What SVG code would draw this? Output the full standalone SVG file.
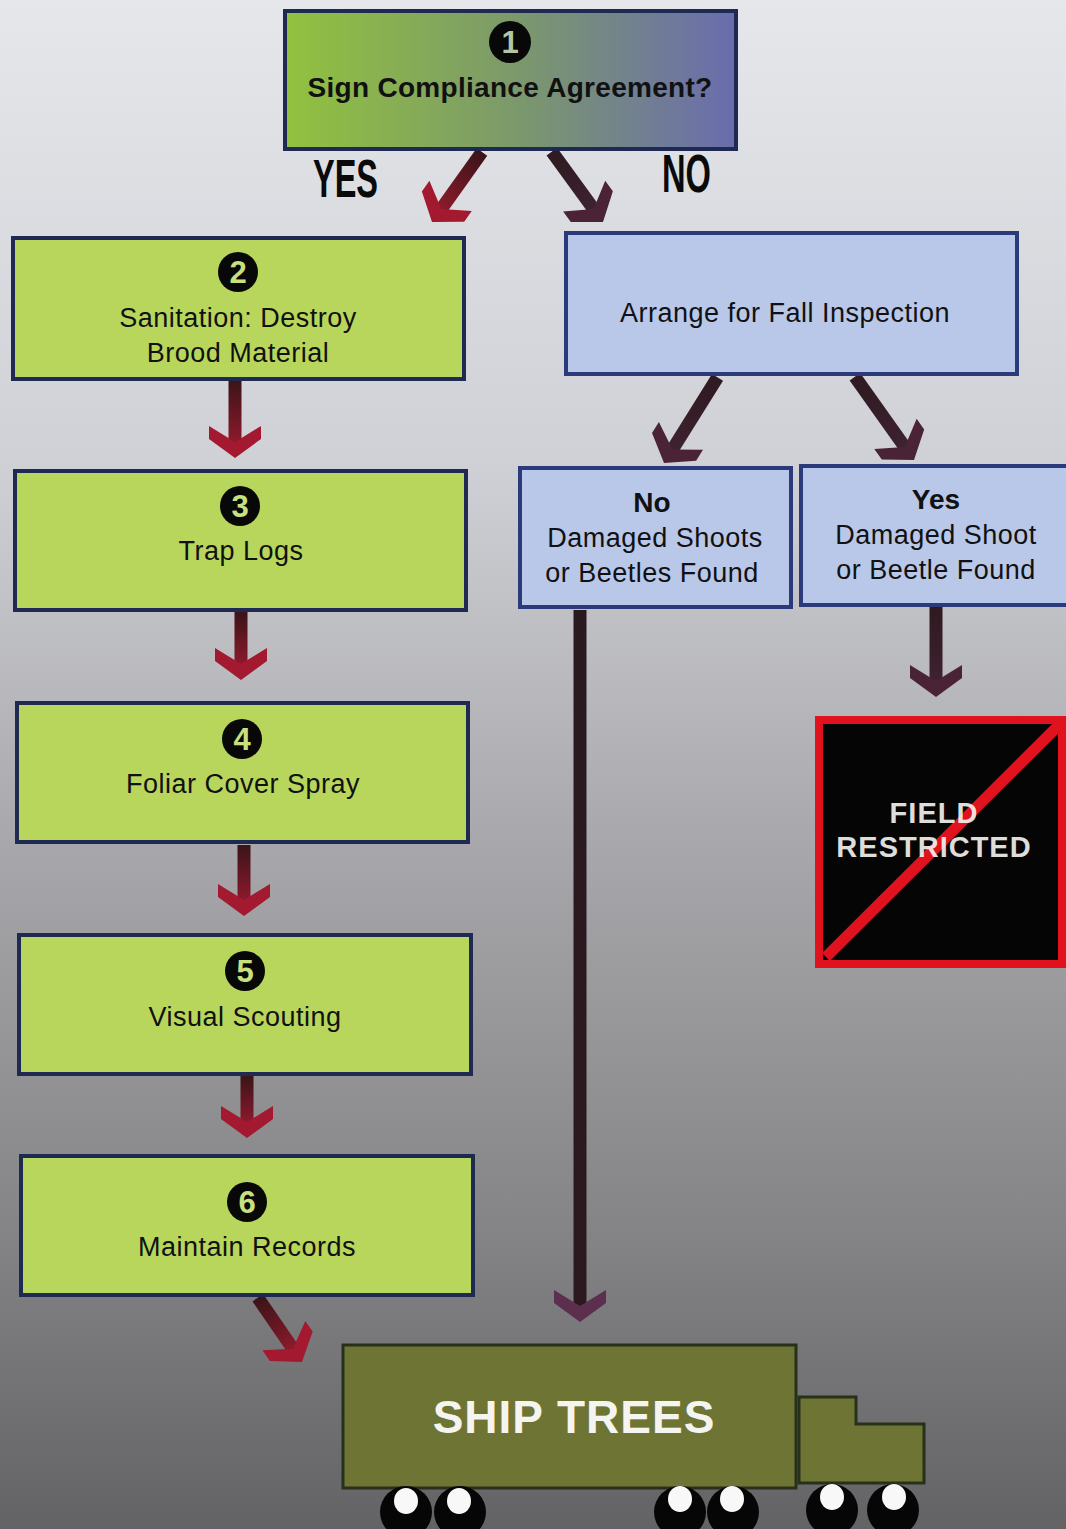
<svg xmlns="http://www.w3.org/2000/svg" xmlns:xlink="http://www.w3.org/1999/xlink" width="1066" height="1529" viewBox="0 0 1066 1529">
<defs>
<linearGradient id="bg" x1="0" y1="0" x2="0" y2="1">
<stop offset="0" stop-color="#e6e7eb"/>
<stop offset="0.3" stop-color="#d0d1d6"/>
<stop offset="0.55" stop-color="#a8a8ac"/>
<stop offset="0.8" stop-color="#858587"/>
<stop offset="1" stop-color="#636365"/>
</linearGradient>
<linearGradient id="g1" x1="0" y1="0" x2="1" y2="0">
<stop offset="0" stop-color="#92c23e"/>
<stop offset="0.5" stop-color="#7c9a6a"/>
<stop offset="1" stop-color="#6a6cae"/>
</linearGradient>
<linearGradient id="shRed" x1="0" y1="0" x2="0" y2="1">
<stop offset="0" stop-color="#3a1418"/>
<stop offset="1" stop-color="#8e1a2c"/>
</linearGradient>
<linearGradient id="shPur" x1="0" y1="0" x2="0" y2="1">
<stop offset="0" stop-color="#2e1a20"/>
<stop offset="1" stop-color="#3e2230"/>
</linearGradient>
<polygon id="chev" points="0,0 -26,-19 -26,-32 0,-16 26,-32 26,-19"/>
<style>
.green{fill:#b8d65c;stroke:#1f2a52;stroke-width:4}
.blue{fill:#b9c7e9;stroke:#2a3a7a;stroke-width:4}
.t{font-family:"Liberation Sans",Arial,sans-serif;font-size:27px;fill:#111;text-anchor:middle;letter-spacing:0.5px}
.tb{font-family:"Liberation Sans",Arial,sans-serif;font-size:28px;font-weight:bold;fill:#111;text-anchor:middle}
.num{font-family:"Liberation Sans",Arial,sans-serif;font-size:31px;font-weight:bold;fill:#c9e07e;text-anchor:middle}
.yn{font-family:"Liberation Sans",Arial,sans-serif;font-size:54px;font-weight:900;fill:#0a0a0a}
.wt{font-family:"Liberation Sans",Arial,sans-serif;font-weight:bold;fill:#f4f4f0;text-anchor:middle}
.hr{fill:#a3192f}
.hp{fill:#4a2436}
.hp2{fill:#5c2f4e}
</style>
</defs>
<rect x="0" y="0" width="1066" height="1529" fill="url(#bg)"/>

<g id="connectors">
<g transform="translate(432,222) rotate(35.5)"><rect x="-6.5" y="-86" width="13" height="72" fill="url(#shRed)"/><use xlink:href="#chev" class="hr"/></g>
<g transform="translate(603,222) rotate(-36)"><rect x="-6.5" y="-87" width="13" height="73" fill="url(#shPur)"/><use xlink:href="#chev" class="hp"/></g>
<g transform="translate(235,458)"><rect x="-6.5" y="-78" width="13" height="64" fill="url(#shRed)"/><use xlink:href="#chev" class="hr"/></g>
<g transform="translate(241,680)"><rect x="-6.5" y="-68" width="13" height="54" fill="url(#shRed)"/><use xlink:href="#chev" class="hr"/></g>
<g transform="translate(244,916)"><rect x="-6.5" y="-71" width="13" height="57" fill="url(#shRed)"/><use xlink:href="#chev" class="hr"/></g>
<g transform="translate(247,1138)"><rect x="-6.5" y="-62" width="13" height="48" fill="url(#shRed)"/><use xlink:href="#chev" class="hr"/></g>
<g transform="translate(302,1362) rotate(-34.5)"><rect x="-6.5" y="-78" width="13" height="64" fill="url(#shRed)"/><use xlink:href="#chev" class="hr"/></g>
<g transform="translate(664,463) rotate(32)"><rect x="-6.5" y="-101" width="13" height="87" fill="url(#shPur)"/><use xlink:href="#chev" class="hp"/></g>
<g transform="translate(914,460) rotate(-35.4)"><rect x="-6.5" y="-102" width="13" height="88" fill="url(#shPur)"/><use xlink:href="#chev" class="hp"/></g>
<g transform="translate(936,697)"><rect x="-6.5" y="-91" width="13" height="77" fill="url(#shPur)"/><use xlink:href="#chev" class="hp"/></g>
<g transform="translate(580,1322)"><rect x="-6.5" y="-712" width="13" height="698" fill="#2a1a20"/><use xlink:href="#chev" class="hp2"/></g>
</g>

<g id="node1">
<rect x="285" y="11" width="451" height="138" fill="url(#g1)" stroke="#1f2a52" stroke-width="4"/>
<circle cx="510" cy="42" r="21" fill="#080808"/>
<text x="510" y="53" class="num" style="fill:#b4c4a4">1</text>
<text x="510" y="97" class="tb" style="letter-spacing:0.3px">Sign Compliance Agreement?</text>
</g>
<text x="313" y="197" class="yn" textLength="65" lengthAdjust="spacingAndGlyphs">YES</text>
<text x="662" y="192" class="yn" textLength="49" lengthAdjust="spacingAndGlyphs">NO</text>

<g id="node2">
<rect x="13" y="238" width="451" height="141" class="green"/>
<circle cx="238" cy="272" r="20" fill="#080808"/>
<text x="238" y="283" class="num">2</text>
<text x="238" y="327" class="t">Sanitation: Destroy</text>
<text x="238" y="362" class="t">Brood Material</text>
</g>

<g id="node3">
<rect x="15" y="471" width="451" height="139" class="green"/>
<circle cx="240" cy="506" r="20" fill="#080808"/>
<text x="240" y="517" class="num">3</text>
<text x="241" y="560" class="t">Trap Logs</text>
</g>

<g id="node4">
<rect x="17" y="703" width="451" height="139" class="green"/>
<circle cx="242" cy="739" r="20" fill="#080808"/>
<text x="242" y="750" class="num">4</text>
<text x="243" y="793" class="t">Foliar Cover Spray</text>
</g>

<g id="node5">
<rect x="19" y="935" width="452" height="139" class="green"/>
<circle cx="245" cy="971" r="20" fill="#080808"/>
<text x="245" y="982" class="num">5</text>
<text x="245" y="1026" class="t">Visual Scouting</text>
</g>

<g id="node6">
<rect x="21" y="1156" width="452" height="139" class="green"/>
<circle cx="247" cy="1202" r="20" fill="#080808"/>
<text x="247" y="1213" class="num">6</text>
<text x="247" y="1256" class="t">Maintain Records</text>
</g>

<g id="arrange">
<rect x="566" y="233" width="451" height="141" class="blue"/>
<text x="785" y="322" class="t">Arrange for Fall Inspection</text>
</g>

<g id="noFound">
<rect x="520" y="468" width="271" height="139" class="blue"/>
<text x="652" y="512" class="tb">No</text>
<text x="655" y="547" class="t">Damaged Shoots</text>
<text x="652" y="582" class="t">or Beetles Found</text>
</g>

<g id="yesFound">
<rect x="801" y="466" width="275" height="139" class="blue"/>
<text x="936" y="509" class="tb">Yes</text>
<text x="936" y="544" class="t">Damaged Shoot</text>
<text x="936" y="579" class="t">or Beetle Found</text>
</g>

<g id="field">
<rect x="819" y="720" width="243" height="244" fill="#050505" stroke="#e0121e" stroke-width="8"/>
<line x1="826" y1="957" x2="1060" y2="724" stroke="#e0121e" stroke-width="11"/>
<text x="934" y="823" class="wt" style="font-size:29px;letter-spacing:1px;fill-opacity:0.92">FIELD</text>
<text x="934" y="857" class="wt" style="font-size:29px;letter-spacing:1px;fill-opacity:0.92">RESTRICTED</text>
</g>

<g id="ship">
<rect x="343" y="1345" width="453" height="143" fill="#6e7434" stroke="#26301a" stroke-width="3"/>
<polygon points="799,1397 856,1397 856,1424 924,1424 924,1483 799,1483" fill="#6e7434" stroke="#26301a" stroke-width="3"/>
<g fill="#060606">
<circle cx="406" cy="1512" r="26"/><circle cx="460" cy="1512" r="26"/>
<circle cx="680" cy="1512" r="26"/><circle cx="733" cy="1512" r="26"/>
<circle cx="832" cy="1510" r="26"/><circle cx="893" cy="1510" r="26"/>
</g>
<g fill="#f8f8f8">
<ellipse cx="406" cy="1501" rx="12" ry="13"/><ellipse cx="459" cy="1501" rx="12" ry="13"/>
<ellipse cx="680" cy="1499" rx="12" ry="13"/><ellipse cx="732" cy="1499" rx="12" ry="13"/>
<ellipse cx="832" cy="1497" rx="12" ry="13"/><ellipse cx="894" cy="1497" rx="12" ry="13"/>
</g>
<text x="574" y="1433" class="wt" style="font-size:46px;letter-spacing:1px">SHIP TREES</text>
</g>
</svg>
